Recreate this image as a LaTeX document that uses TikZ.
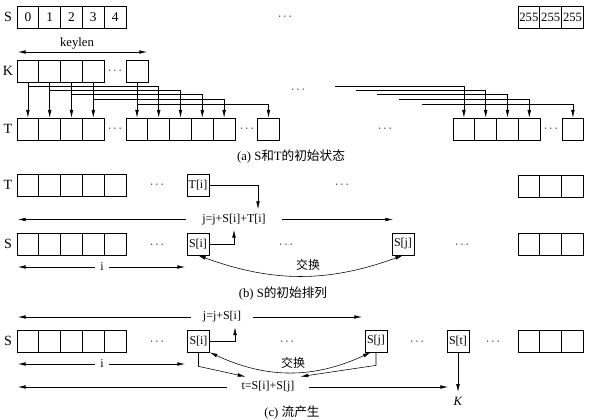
\documentclass[tikz,border=0pt]{standalone}
\usepackage{fontspec}
\setmainfont{Liberation Serif}
\newfontfamily\cjk{Noto Sans CJK SC}
\usetikzlibrary{arrows.meta}

\begin{document}
\begin{tikzpicture}[x=0.025cm,y=-0.025cm,
   every node/.style={font=\fontsize{8.5}{10}\selectfont},
   cell/.style={draw,line width=0.5pt,minimum width=0.545cm,minimum height=0.55cm,inner sep=0pt},
   rowname/.style={font=\fontsize{10}{12}\selectfont},
   arr/.style={line width=0.4pt,-{Latex[length=5.5pt,width=2.6pt]}},
   dbl/.style={line width=0.4pt,{Latex[length=5.5pt,width=2.6pt]}-{Latex[length=5.5pt,width=2.6pt]}},
   captext/.style={font=\fontsize{9}{11}\selectfont}]
   \useasboundingbox (0,0) rectangle (593,420);

   % (a) S and T, initial state
   \node [rowname] (lSa) at (8,17) {S};
   \foreach \k in {0,...,4}
     \node [cell,font=\fontsize{9.5}{11}\selectfont] (Sa\k) at (27.9+21.8*\k,17) {\k};
   \node (dSa) at (285,17) {$\cdots$};
   \foreach \k in {1,2,3}
     \node [cell,font=\fontsize{9}{11}\selectfont] (Sz\k) at (507.1+21.8*\k,17) {255};

   \coordinate (kl) at (18,52);
   \coordinate (kr) at (147,52);
   \draw [dbl] (kl) -- (kr);
   \node [font=\fontsize{9}{11}\selectfont] (keylen) at (77,43) {keylen};

   \node [rowname] (lK) at (8,71) {K};
   \foreach \k in {1,...,4}
     \node [cell] (Ka\k) at (6.1+21.8*\k,71) {};
   \node (dK) at (115,71) {$\cdots$};
   \node [cell] (Kn) at (137,71) {};
   \node (dKr) at (298,90) {$\cdots$};

   \node [rowname] (lTa) at (8,129) {T};
   \foreach \k in {1,...,4}
     \node [cell] (Ta\k) at (6.1+21.8*\k,129) {};
   \node (dTa) at (115,129) {$\cdots$};
   \foreach \k in {1,...,5}
     \node [cell] (Tb\k) at (115.1+21.8*\k,129) {};
   \node (dTb) at (247,129) {$\cdots$};
   \node [cell] (Tc) at (268.5,129) {};
   \node (dTm) at (385,129) {$\cdots$};
   \foreach \k in {1,...,4}
     \node [cell] (Td\k) at (442.1+21.8*\k,129) {};
   \node (dTd) at (551,129) {$\cdots$};
   \node [cell] (Te) at (572.9,129) {};

   \foreach \k in {1,...,4}
     \draw [arr] (Ka\k) -- (Ta\k);
   \draw [arr] (Kn.south) -- (Kn.south |- Tb1.north);
   \foreach \src/\yy/\dst in {Ka1/86/Tb2,Ka2/90/Tb3,Ka3/94/Tb4,Ka4/99/Tb5,Kn/104/Tc}
     \draw [arr] (\src.south |- 0,\yy) -| (\dst.north);
   \foreach \xs/\yy/\dst in {335/86/Td1,356/90/Td2,377/94/Td3,399/99/Td4,422/104/Te}
   {
     \coordinate (f\dst) at (\xs,\yy);
     \draw [arr] (f\dst) -| (\dst.north);
   }
   \node [captext] (capa) at (291,157) {(a) S{\cjk 和}T{\cjk 的初始状态}};

   % (b) initial permutation of S
   \node [rowname] (lTp) at (8,185) {T};
   \foreach \k in {1,...,5}
     \node [cell] (Tp\k) at (6.1+21.8*\k,185) {};
   \node (dTp) at (157,185) {$\cdots$};
   \node [cell] (Ti) at (198,185) {T[i]};
   \node (dTq) at (342,185) {$\cdots$};
   \foreach \k in {1,2,3}
     \node [cell] (Tr\k) at (507.1+21.8*\k,186) {};

   \node [inner xsep=0.4cm] (jb) at (234,219.5) {j=j+S[i]+T[i]};
   \coordinate (jbl) at (18,219.5);
   \coordinate (jbr) at (393,219.5);
   \draw [arr] (jb) -- (jbl);
   \draw [arr] (jb) -- (jbr);

   \node [rowname] (lSp) at (8,244) {S};
   \foreach \k in {1,...,5}
     \node [cell] (Sp\k) at (6.1+21.8*\k,244) {};
   \node (dSp) at (157,245) {$\cdots$};
   \node [cell] (Si) at (198,244) {S[i]};
   \node (dSq) at (286,245) {$\cdots$};
   \node [cell] (Sj) at (403,244) {S[j]};
   \node (dSr) at (462,245) {$\cdots$};
   \foreach \k in {1,2,3}
     \node [cell] (Sr\k) at (507.1+21.8*\k,244) {};

   \draw [arr] (Ti.east) -| ([xshift=0.6cm]jb.north);
   \draw [arr] (Si.east) -| (jb.south);

   \node (ib) at (102,267) {i};
   \coordinate (ibl) at (18,267);
   \coordinate (ibr) at (185,267);
   \draw [arr] (ib) -- (ibl);
   \draw [arr] (ib) -- (ibr);

   \draw [dbl] (Si.south) to [bend right=20] (Sj.south);
   \node (swb) at (308,265) {\cjk 交换};
   \node [captext] (capb) at (283,294) {(b) S{\cjk 的初始排列}};

   % (c) stream generation
   \node [inner xsep=0.3cm] (jc) at (222,317) {j=j+S[i]};
   \coordinate (jcl) at (18,317);
   \coordinate (jcr) at (362,317);
   \draw [arr] (jc) -- (jcl);
   \draw [arr] (jc) -- (jcr);

   \node [rowname] (lSc) at (8,341) {S};
   \foreach \k in {1,...,5}
     \node [cell] (Sc\k) at (6.1+21.8*\k,341) {};
   \node (dSc) at (157,342) {$\cdots$};
   \node [cell] (Sci) at (198.5,341) {S[i]};
   \node (dSd) at (287,342) {$\cdots$};
   \node [cell] (Scj) at (376,341) {S[j]};
   \node (dSe) at (417,342) {$\cdots$};
   \node [cell] (Sct) at (458,341) {S[t]};
   \node (dSf) at (493,342) {$\cdots$};
   \foreach \k in {1,2,3}
     \node [cell] (Scr\k) at (507.1+21.8*\k,341) {};

   \draw [arr] (Sci.east) -| ([xshift=0.325cm]jc.south);

   \node (ic) at (102,364) {i};
   \coordinate (icl) at (18,364);
   \coordinate (icr) at (185,364);
   \draw [arr] (ic) -- (icl);
   \draw [arr] (ic) -- (icr);

   \draw [dbl] (Sci.south east) to [bend right=25] ([xshift=0.15cm]Scj.south west);
   \node (swc) at (293,363) {\cjk 交换};

   \node [inner xsep=0.35cm] (tc) at (268,387) {t=S[i]+S[j]};
   \coordinate (tcl) at (18,387);
   \coordinate (tcr) at (448,387);
   \draw [arr] (tc) -- (tcl);
   \draw [arr] (tc) -- (tcr);
   \draw [arr] (Sci.south) -- ++(0,14) -- ([xshift=0.45cm]tc.north west);
   \draw [arr] (Scj.south) -- ++(0,13) -- ([xshift=-0.2cm]tc.north east);

   \node [font=\fontsize{9}{11}\selectfont] (kout) at (458,401) {\textit{K}};
   \draw [arr] (Sct) -- (kout);
   \node [captext] (capc) at (292,413) {(c) {\cjk 流产生}};
\end{tikzpicture}
\end{document}
